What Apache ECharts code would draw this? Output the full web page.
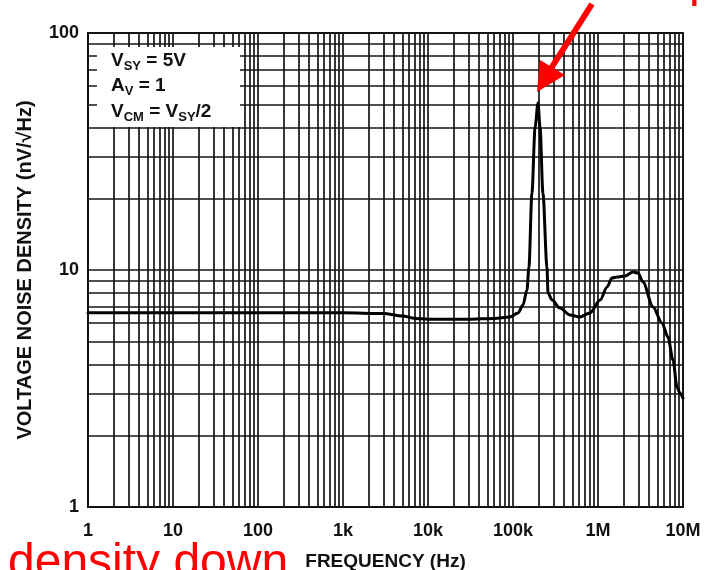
<!DOCTYPE html>
<html>
<head>
<meta charset="utf-8">
<script src="https://cdn.jsdelivr.net/npm/echarts@6/dist/echarts.min.js"></script>
<style>
html,body{margin:0;padding:0;background:#fff;}
#chart{width:726px;height:570px;}
</style>
</head>
<body>
<div id="chart"></div>
<script>
// ---- data ----
const freqHz = [1, 10, 100, 1000, 3000, 5000, 7000, 10000, 30000, 60000, 92000, 114500, 131000, 146000, 154000, 167000, 182000, 197000, 208000, 225000, 251000, 258000, 288000, 357000, 469000, 614000, 805000, 1060000, 1280000, 1460000, 1670000, 2080000, 2580000, 2960000, 3380000, 4440000, 5660000, 6660000, 7630000, 8500000, 9200000, 10000000];
const noiseDensity = [6.6, 6.6, 6.6, 6.6, 6.55, 6.4, 6.25, 6.2, 6.2, 6.25, 6.34, 6.59, 7.11, 8.24, 10.3, 21.1, 40.1, 50.7, 40.1, 21.1, 10.3, 8.0, 7.47, 6.91, 6.46, 6.34, 6.59, 7.47, 8.48, 9.25, 9.34, 9.44, 9.81, 9.71, 8.9, 6.98, 5.98, 5.21, 4.17, 3.21, 3.03, 2.88];

const freqTickValues = [1, 10, 100, 1000, 10000, 100000, 1000000, 10000000];
const freqTickLabels = ['1', '10', '100', '1k', '10k', '100k', '1M', '10M'];
const densTickValues = [1, 10, 100];
const densTickLabels = ['1', '10', '100'];

const minorMultipliers = [2, 3, 4, 5, 6, 7, 8, 9];
const freqDecades = [1, 10, 100, 1000, 10000, 100000, 1000000];
const densDecades = [1, 10];

const xTitle = 'FREQUENCY (Hz)';
const yTitle = 'VOLTAGE NOISE DENSITY (nV/√Hz)';
const conditionLines = [
  [['V', 'm'], ['SY', 's'], [' = 5V', 'm']],
  [['A', 'm'], ['V', 's'], [' = 1', 'm']],
  [['V', 'm'], ['CM', 's'], [' = V', 'm'], ['SY', 's'], ['/2', 'm']]
];
const redBottomText = 'density down';
const redTopText = 'p';

// ---- build ----
const FONT = '"Liberation Sans", Arial, Helvetica, sans-serif';
const GRID_COLOR = '#141414';
const GRID_W = 1.7;

const curve = freqHz.map((f, i) => [f, noiseDensity[i]]);

const vLines = [];
freqDecades.forEach(d => {
  minorMultipliers.forEach(m => vLines.push({ xAxis: d * m }));
});
const hLines = [];
densDecades.forEach(d => {
  minorMultipliers.forEach(m => hLines.push({ yAxis: d * m }));
});

const mctx = document.createElement('canvas').getContext('2d');
function textWidth(t, size) {
  mctx.font = 'bold ' + size + 'px ' + FONT;
  return mctx.measureText(t).width;
}

const MAIN = 19, SUB = 13;
const lineCenters = [61, 86, 112];
const legendTexts = [];
conditionLines.forEach((parts, li) => {
  let x = 111;
  parts.forEach(([t, kind]) => {
    const size = kind === 'm' ? MAIN : SUB;
    legendTexts.push({
      type: 'text', z: 101,
      style: {
        text: t, x: x, y: lineCenters[li] + (kind === 's' ? 5.5 : 0),
        font: 'bold ' + size + 'px ' + FONT, fill: '#111',
        textAlign: 'left', textVerticalAlign: 'middle'
      }
    });
    x += textWidth(t, size);
  });
});

const chart = echarts.init(document.getElementById('chart'), null, { renderer: 'canvas' });

const option = {
  animation: false,
  backgroundColor: '#fff',
  grid: {
    left: 88, right: 43, top: 33, bottom: 63,
    outerBoundsMode: 'none', containLabel: false,
    show: true, borderColor: '#111', borderWidth: 1.8, backgroundColor: 'transparent'
  },
  xAxis: {
    type: 'log', logBase: 10, min: 1, max: 10000000,
    name: xTitle, nameLocation: 'middle', nameGap: 45,
    nameTextStyle: { fontFamily: FONT, fontWeight: 'bold', fontSize: 19, color: '#111' },
    axisLine: { show: true, lineStyle: { color: '#111', width: 1.8 } },
    axisTick: { show: false },
    axisLabel: {
      margin: 15, color: '#111', fontFamily: FONT, fontWeight: 'bold', fontSize: 18,
      formatter: v => {
        const i = freqTickValues.findIndex(t => Math.abs(Math.log10(t) - Math.log10(v)) < 1e-6);
        return i >= 0 ? freqTickLabels[i] : '';
      }
    },
    splitLine: { show: true, lineStyle: { color: GRID_COLOR, width: GRID_W } },
    minorTick: { show: false }, minorSplitLine: { show: false }
  },
  yAxis: {
    type: 'log', logBase: 10, min: 1, max: 100,
    name: yTitle, nameLocation: 'middle', nameGap: 53, nameRotate: 90,
    nameTextStyle: { fontFamily: FONT, fontWeight: 'bold', fontSize: 20, color: '#111' },
    axisLine: { show: true, lineStyle: { color: '#111', width: 1.8 } },
    axisTick: { show: false },
    axisLabel: {
      margin: 9, color: '#111', fontFamily: FONT, fontWeight: 'bold', fontSize: 18,
      formatter: v => {
        const i = densTickValues.findIndex(t => Math.abs(Math.log10(t) - Math.log10(v)) < 1e-6);
        return i >= 0 ? densTickLabels[i] : '';
      }
    },
    splitLine: { show: true, lineStyle: { color: GRID_COLOR, width: GRID_W } },
    minorTick: { show: false }, minorSplitLine: { show: false }
  },
  series: [
    {
      type: 'line', name: 'grid', data: [], z: 1, silent: true,
      markLine: {
        silent: true, symbol: ['none', 'none'], animation: false,
        label: { show: false },
        lineStyle: { color: GRID_COLOR, width: GRID_W, type: 'solid' },
        emphasis: { disabled: true },
        data: vLines.concat(hLines)
      }
    },
    {
      type: 'line', name: 'noise', data: curve, z: 5,
      showSymbol: false, smooth: 0.3, smoothMonotone: 'x',
      lineStyle: { color: '#000', width: 3, join: 'round', cap: 'round' }
    }
  ],
  graphic: [
    { type: 'rect', z: 100, shape: { x: 97, y: 47, width: 143, height: 80 }, style: { fill: '#fff' } },
    ...legendTexts,
    // red annotation arrow
    { type: 'line', z: 110, shape: { x1: 592, y1: 4, x2: 550, y2: 70 }, style: { stroke: '#ff0000', lineWidth: 6 } },
    { type: 'polygon', z: 110, shape: { points: [[537, 92], [540, 60], [565, 75]] }, style: { fill: '#ff0000' } },
    { type: 'text', z: 110, style: { text: redTopText, x: 689, y: -17, font: '48px ' + FONT, fill: '#ff0000', textAlign: 'left', textVerticalAlign: 'middle' } },
    { type: 'text', z: 110, style: { text: redBottomText, x: 8, y: 564, font: '48px ' + FONT, fill: '#ff0000', textAlign: 'left', textVerticalAlign: 'middle' } }
  ]
};
chart.setOption(option);
</script>
</body>
</html>
